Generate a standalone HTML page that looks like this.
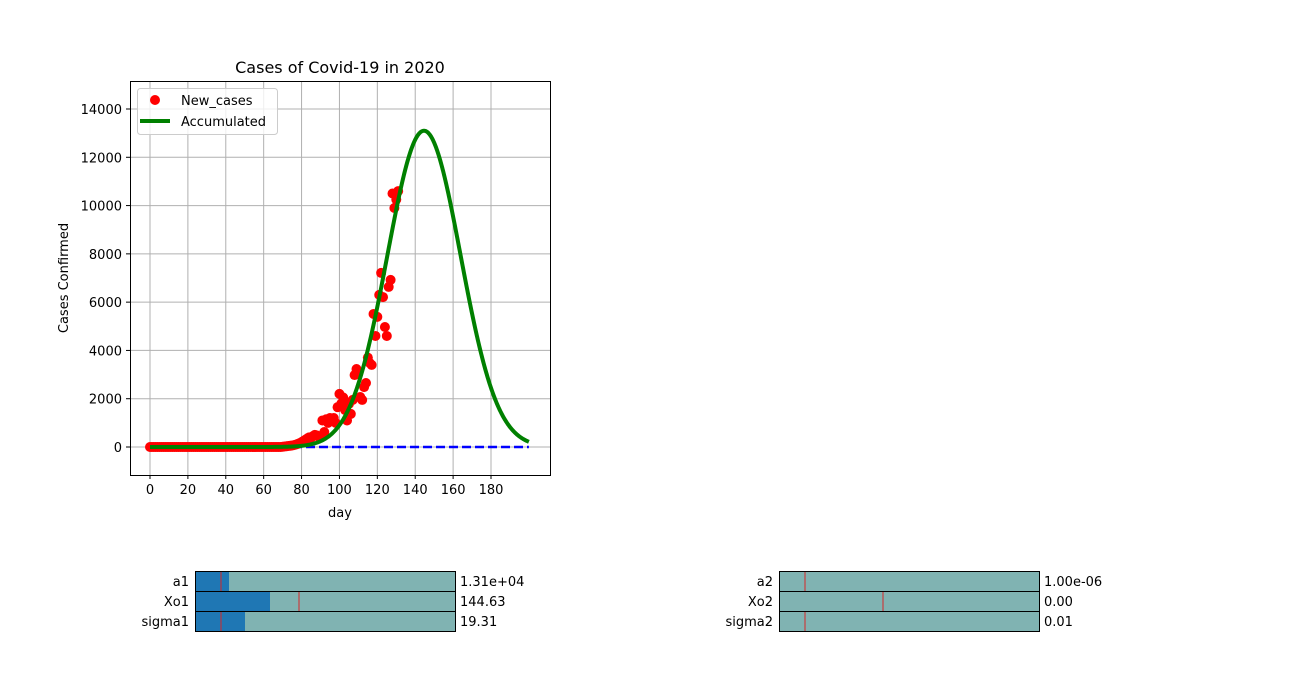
<!DOCTYPE html>
<html><head><meta charset="utf-8"><style>
body{margin:0;background:#fff;}
svg{display:block;font-family:"DejaVu Sans","Liberation Sans",sans-serif;}
</style></head><body>
<svg id="chart" width="1299" height="679">
<rect x="0" y="0" width="1299" height="679" fill="#fff"/>
<g id="grid"></g>
<g id="series"></g>
<rect x="130.5" y="81.5" width="420" height="394" fill="none" stroke="#000" stroke-width="1"/>
<g id="axes"></g>
<text x="340" y="73" font-size="16" text-anchor="middle">Cases of Covid-19 in 2020</text>
<text x="340" y="517" font-size="13" text-anchor="middle">day</text>
<text x="68" y="278" font-size="13" text-anchor="middle" transform="rotate(-90 68 278)">Cases Confirmed</text>
<g>
<rect x="137.5" y="88.5" width="140" height="46" rx="3" fill="#fff" fill-opacity="0.8" stroke="#ccc"/>
<circle cx="155" cy="100" r="5" fill="red"/>
<text x="181" y="105" font-size="13">New_cases</text>
<line x1="140" y1="121" x2="170" y2="121" stroke="green" stroke-width="4"/>
<text x="181" y="126" font-size="13">Accumulated</text>
</g>
<g id="sliders"></g>
</svg>
<script>
const xTicks=[0,20,40,60,80,100,120,140,160,180];
const yTicks=[0,2000,4000,6000,8000,10000,12000,14000];
const newCases=[0,0,0,0,0,0,0,0,0,0,0,0,0,0,0,0,0,0,0,0,0,0,0,0,0,0,0,0,0,0,0,0,0,0,0,0,0,0,0,0,0,0,0,0,0,0,0,0,0,0,0,0,0,0,0,0,0,0,0,0,0,0,0,0,0,0,0,0,0,0,
10,20,30,40,50,60,80,100,130,160,
200,250,300,350,400,380,450,500,480,420,
400,1100,620,1150,1000,1200,1100,1200,1000,1650,
2200,1800,2050,1530,1100,1780,1370,1950,2980,3230,
3100,2070,1950,2480,2650,3700,3480,3400,5510,4600,
5390,6300,7210,6210,4970,4600,6630,6920,10500,9900,10250,10600];
const a1=13100, xo1=144.63, sigma1=19.31;
const a2=1e-6, xo2=0, sigma2=0.01;
const days=200;
const NS="http://www.w3.org/2000/svg";
const X=d=>150+d*(491-150)/180;
const Y=v=>447-v*(447-109)/14000;
function mk(t,a,p){const e=document.createElementNS(NS,t);for(const k in a)e.setAttribute(k,a[k]);p.appendChild(e);return e;}
const grid=document.getElementById('grid'),axes=document.getElementById('axes'),ser=document.getElementById('series');
xTicks.forEach(t=>{
 const g=mk('line',{x1:X(t),x2:X(t),y1:81,y2:475,stroke:'#b0b0b0','stroke-width':1},grid);
 
 
 mk('line',{x1:X(t),x2:X(t),y1:475,y2:479,stroke:'#000'},axes);
 const tx=mk('text',{x:X(t),y:494,'font-size':13,'text-anchor':'middle'},axes);tx.textContent=t;
 
 
});
yTicks.forEach(t=>{
 const g=mk('line',{x1:130,x2:551,y1:Y(t),y2:Y(t),stroke:'#b0b0b0','stroke-width':1},grid);
 
 
 mk('line',{x1:126,x2:130,y1:Y(t),y2:Y(t),stroke:'#000'},axes);
 const tx=mk('text',{x:122,y:Y(t)+5,'font-size':13,'text-anchor':'end'},axes);tx.textContent=t;
 
 
});
// second gaussian (blue dashed)
let p2='',p1='';
for(let i=0;i<=days*4;i++){const d=i/4;
 const v2=a2*Math.exp(-((d-xo2)**2)/(2*sigma2*sigma2));
 const v1=a1*Math.exp(-((d-xo1)**2)/(2*sigma1*sigma1));
 p2+=(i?'L':'M')+X(d).toFixed(2)+' '+Y(v2).toFixed(2);
 p1+=(i?'L':'M')+X(d).toFixed(2)+' '+Y(v1).toFixed(2);}
const l2=mk('path',{d:p2,fill:'none',stroke:'blue','stroke-width':2.5,'stroke-dasharray':'9 4'},ser);


newCases.forEach((v,d)=>{
 const c=mk('circle',{cx:X(d),cy:Y(v),r:5,fill:'red'},ser);
 
 
});
const l1=mk('path',{d:p1,fill:'none',stroke:'green','stroke-width':4},ser);


// sliders
const sl=document.getElementById('sliders');
const sliders=[
 {n:'a1',x:195,y:571,fill:34,mark:26,val:'1.31e+04'},
 {n:'Xo1',x:195,y:591,fill:75,mark:104,val:'144.63'},
 {n:'sigma1',x:195,y:611,fill:50,mark:26,val:'19.31'},
 {n:'a2',x:779,y:571,fill:0,mark:26,val:'1.00e-06'},
 {n:'Xo2',x:779,y:591,fill:0,mark:104,val:'0.00'},
 {n:'sigma2',x:779,y:611,fill:0,mark:26,val:'0.01'}];
sliders.forEach(s=>{
 const g=mk('g',{},sl);
 
 
 mk('rect',{x:s.x,y:s.y,width:260,height:20,fill:'#80b3b2'},g);
 if(s.fill)mk('rect',{x:s.x,y:s.y,width:s.fill,height:20,fill:'#1f77b4'},g);
 mk('line',{x1:s.x+s.mark,x2:s.x+s.mark,y1:s.y,y2:s.y+20,stroke:'#d62728','stroke-width':1},g);
 mk('rect',{x:s.x+0.5,y:s.y+0.5,width:260,height:20,fill:'none',stroke:'#000'},g);
 const a=mk('text',{x:s.x-6,y:s.y+15,'font-size':13,'text-anchor':'end'},g);a.textContent=s.n;
 const b=mk('text',{x:s.x+265,y:s.y+15,'font-size':13},g);b.textContent=s.val;
});
</script>
</body></html>
